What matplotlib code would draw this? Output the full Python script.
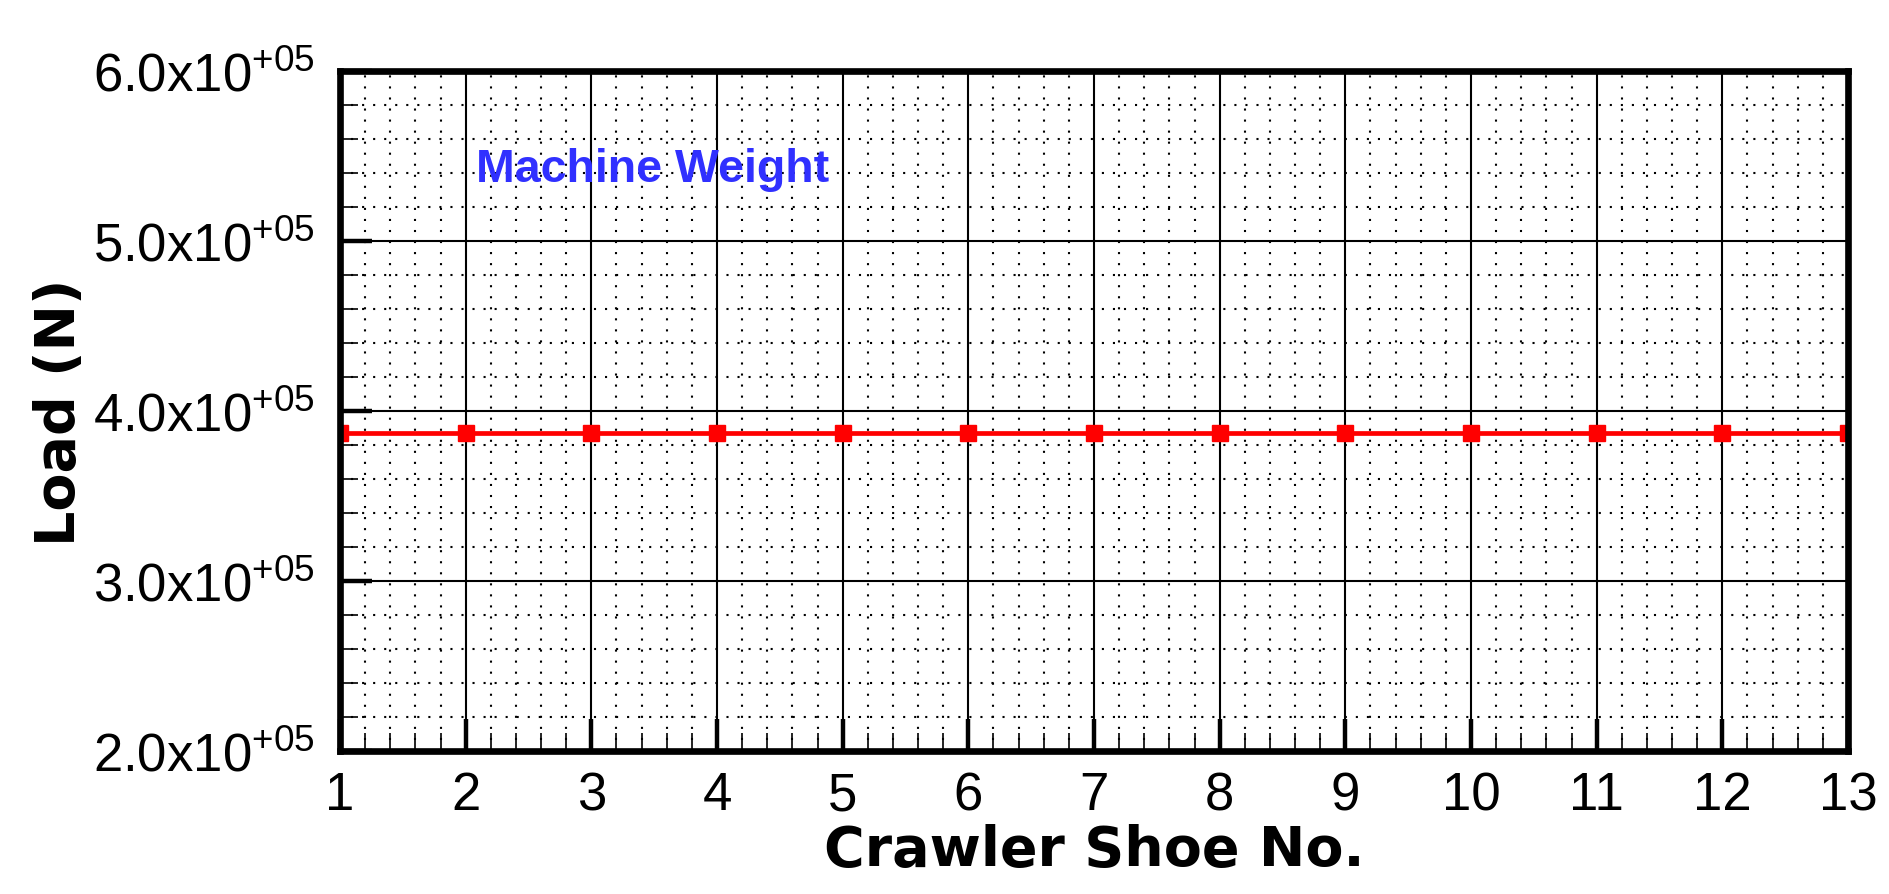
import matplotlib
matplotlib.use("Agg")
import matplotlib.pyplot as plt
from matplotlib.ticker import MultipleLocator, FixedLocator

plt.rcParams['font.family'] = ['Liberation Sans', 'DejaVu Sans']
plt.rcParams['mathtext.fontset'] = 'custom'
plt.rcParams['mathtext.rm'] = 'Liberation Sans'
plt.rcParams['mathtext.it'] = 'Liberation Sans'
plt.rcParams['mathtext.bf'] = 'Liberation Sans:bold'

# Data
shoe_no = [1, 2, 3, 4, 5, 6, 7, 8, 9, 10, 11, 12, 13]
load = [3.87e5, 3.87e5, 3.87e5, 3.87e5, 3.87e5, 3.87e5, 3.87e5,
        3.87e5, 3.87e5, 3.87e5, 3.87e5, 3.87e5, 3.87e5]
y_ticks = [2e5, 3e5, 4e5, 5e5, 6e5]
y_tick_labels = ["2.0x10$^{+05}$", "3.0x10$^{+05}$", "4.0x10$^{+05}$",
                 "5.0x10$^{+05}$", "6.0x10$^{+05}$"]
x_ticks = [1, 2, 3, 4, 5, 6, 7, 8, 9, 10, 11, 12, 13]

fig = plt.figure(figsize=(18.89, 8.95), dpi=100)
ax = fig.add_axes([0.18, 0.1598, 0.7983, 0.7598])

ax.set_xlim(1, 13)
ax.set_ylim(2e5, 6e5)

ax.xaxis.set_major_locator(FixedLocator(x_ticks))
ax.xaxis.set_minor_locator(MultipleLocator(0.2))
ax.yaxis.set_major_locator(FixedLocator(y_ticks))
ax.yaxis.set_minor_locator(MultipleLocator(2e4))
ax.set_yticklabels(y_tick_labels)
ax.set_xticklabels([str(v) for v in x_ticks])

ax.grid(which='major', color='black', linewidth=1.5, linestyle='-', zorder=0)
ax.grid(which='minor', color='black', linewidth=1.5, linestyle=(0, (1, 4.3)), zorder=0)
ax.set_axisbelow(True)

ax.tick_params(which='major', direction='in', length=23, width=3.2,
               labelsize=38, colors='black', top=False, right=False)
ax.tick_params(which='minor', direction='in', length=13, width=1.2,
               top=False, right=False)
ax.tick_params(axis='x', which='major', pad=14)
ax.tick_params(axis='y', which='major', pad=18)

for s in ax.spines.values():
    s.set_linewidth(4.8)
    s.set_zorder(5)

ax.plot(shoe_no, load, color='#ff0000', linewidth=3.4, marker='s',
        markersize=11, zorder=3)

ax.text(2.08, 5.355e5, "Machine Weight", color='#3030ff', fontsize=33.5,
        fontweight='bold', ha='left', va='baseline')

ax.set_xlabel("Crawler Shoe No.", fontsize=40, fontweight='bold', labelpad=2,
              family=['DejaVu Sans'])
ax.set_ylabel("Load (N)", fontsize=40, fontweight='bold', labelpad=4,
              family=['DejaVu Sans'])

fig.savefig("out.png", dpi=100)
